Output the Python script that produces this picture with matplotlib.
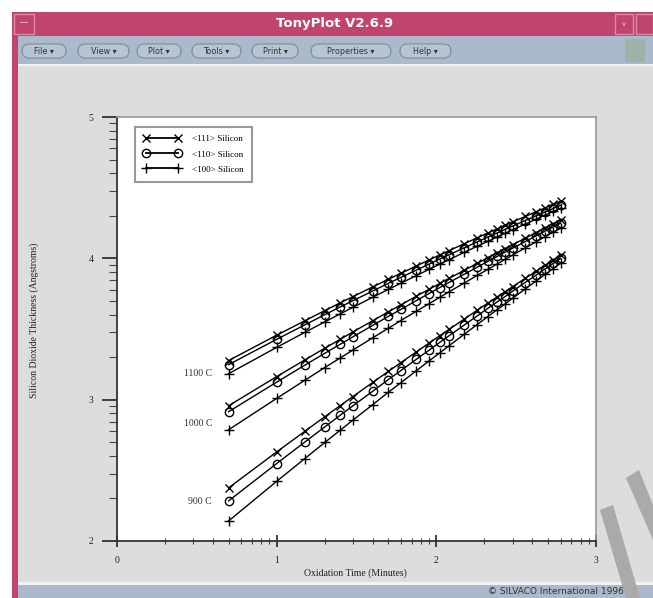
import numpy as np
import matplotlib
matplotlib.use('Agg')
import matplotlib.pyplot as plt
from matplotlib.patches import Rectangle, FancyBboxPatch, Polygon
from matplotlib.lines import Line2D

W, H = 653, 598

# ---------------- data ----------------
times_min = [5, 10, 15, 20, 25, 30, 40, 50, 60, 75, 90, 105, 120, 150, 180,
             210, 240, 270, 300, 360, 420, 480, 540, 600]

# log10 of oxide thickness in Angstroms (axis shows decades 2..5)
t1100_111 = [3.277, 3.456, 3.558, 3.630, 3.685, 3.729, 3.798, 3.852, 3.894, 3.946, 3.988, 4.024,
             4.054, 4.104, 4.145, 4.179, 4.208, 4.234, 4.257, 4.296, 4.329, 4.357, 4.382, 4.404]
t1100_110 = [3.248, 3.427, 3.529, 3.601, 3.656, 3.700, 3.769, 3.823, 3.865, 3.917, 3.959, 3.995,
             4.025, 4.075, 4.116, 4.150, 4.179, 4.205, 4.228, 4.267, 4.300, 4.328, 4.353, 4.375]
t1100_100 = [3.184, 3.370, 3.476, 3.550, 3.607, 3.653, 3.725, 3.780, 3.824, 3.878, 3.922, 3.959,
             3.990, 4.043, 4.085, 4.120, 4.151, 4.178, 4.202, 4.242, 4.276, 4.306, 4.332, 4.355]
t1000_111 = [2.957, 3.163, 3.281, 3.364, 3.427, 3.479, 3.559, 3.621, 3.671, 3.732, 3.781, 3.822,
             3.858, 3.916, 3.964, 4.004, 4.039, 4.069, 4.096, 4.142, 4.181, 4.215, 4.244, 4.270]
t1000_110 = [2.915, 3.124, 3.244, 3.328, 3.392, 3.444, 3.526, 3.589, 3.639, 3.701, 3.751, 3.793,
             3.829, 3.888, 3.937, 3.978, 4.013, 4.044, 4.071, 4.118, 4.158, 4.192, 4.222, 4.248]
t1000_100 = [2.787, 3.009, 3.137, 3.227, 3.295, 3.351, 3.438, 3.505, 3.560, 3.626, 3.679, 3.724,
             3.763, 3.826, 3.879, 3.922, 3.960, 3.993, 4.023, 4.073, 4.116, 4.153, 4.185, 4.213]
t900_111 = [2.376, 2.630, 2.776, 2.879, 2.958, 3.022, 3.122, 3.200, 3.262, 3.338, 3.400, 3.452,
            3.497, 3.571, 3.632, 3.683, 3.726, 3.764, 3.799, 3.858, 3.907, 3.950, 3.987, 4.021]
t900_110 = [2.284, 2.548, 2.700, 2.807, 2.890, 2.956, 3.060, 3.142, 3.206, 3.286, 3.350, 3.405,
            3.452, 3.529, 3.592, 3.646, 3.691, 3.730, 3.767, 3.829, 3.880, 3.925, 3.964, 3.999]
t900_100 = [2.142, 2.422, 2.583, 2.697, 2.784, 2.855, 2.965, 3.052, 3.120, 3.205, 3.274, 3.331,
            3.381, 3.464, 3.531, 3.588, 3.636, 3.678, 3.717, 3.783, 3.838, 3.886, 3.927, 3.965]

orientations = ['<111> Silicon', '<110> Silicon', '<100> Silicon']
temperature_labels = ['1100 C', '1000 C', '900 C']
x_ticks = [0, 1, 2, 3]
y_ticks = [2, 3, 4, 5]
x_title = 'Oxidation Time (Minutes)'
y_title = 'Silicon Dioxide Thickness (Angstroms)'
window_title = 'TonyPlot V2.6.9'
menu_items = ['File', 'View', 'Plot', 'Tools', 'Print', 'Properties', 'Help']
footer = '\u00a9 SILVACO International 1996'

groups = [
    [t1100_111, t1100_110, t1100_100],
    [t1000_111, t1000_110, t1000_100],
    [t900_111, t900_110, t900_100],
]

# ---------------- figure / window chrome ----------------
fig = plt.figure(figsize=(W / 100, H / 100), dpi=100)
fig.patch.set_facecolor('white')


def fx(x):
    return x / W


def fy(y):
    return 1 - y / H


def rect(x0, y0, x1, y1, fc, ec='none', lw=0, z=-10):
    fig.add_artist(Rectangle((fx(x0), fy(y1)), (x1 - x0) / W, (y1 - y0) / H,
                             transform=fig.transFigure, facecolor=fc,
                             edgecolor=ec, linewidth=lw, zorder=z))


PINK = '#C1446F'
MENU = '#AABACB'
GRAY = '#DDDDDD'

rect(12, 12, 653, 598, PINK)             # window frame
rect(12, 12, 653, 36, PINK)               # title bar
rect(18, 36, 653, 64, MENU)               # menu bar
rect(18, 64, 653, 66, '#F2F2F2')
rect(18, 66, 653, 582, GRAY)              # content area
rect(18, 582, 653, 585, '#F2F2F2')
rect(18, 585, 653, 598, MENU)             # status bar

# title bar buttons
rect(14, 14, 34, 34, 'none', ec='#D98AA6', lw=1, z=-9)
fig.text(fx(24), fy(23), '\u2014', color='#F0C8D6', fontsize=6, ha='center', va='center')
rect(615, 14, 633, 34, 'none', ec='#D98AA6', lw=1, z=-9)
fig.text(fx(624), fy(24), 'v', color='#F0C8D6', fontsize=5, ha='center', va='center')
rect(636, 14, 653, 34, 'none', ec='#D98AA6', lw=1, z=-9)
fig.text(fx(335), fy(24), window_title, color='white', fontsize=9.5,
         fontweight='bold', ha='center', va='center', family='DejaVu Sans')

# menu pills
pill_x = [(22, 66), (78, 129), (137, 181), (192, 241), (252, 298), (311, 391), (400, 451)]
for (x0, x1), name in zip(pill_x, menu_items):
    fig.add_artist(FancyBboxPatch((fx(x0), fy(58)), (x1 - x0) / W, 14 / H,
                                  boxstyle='round,pad=0,rounding_size=0.012',
                                  transform=fig.transFigure, facecolor='#B7C5D3',
                                  edgecolor='#7F8C9A', linewidth=0.8, zorder=-8))
    fig.text(fx((x0 + x1) / 2), fy(51), name + ' \u25be', fontsize=5.8, color='#333333',
             ha='center', va='center', family='DejaVu Sans')
rect(625, 39, 645, 62, '#9FB2AA', z=-9)

fig.text(fx(488), fy(592), footer, fontsize=6.5, color='#333333', ha='left',
         va='center', family='DejaVu Sans')

# watermark strokes (bottom right)
for pts in ([(600, 510), (613, 505), (640, 598), (626, 598)],
            [(626, 478), (639, 470), (653, 505), (653, 540)]):
    fig.add_artist(Polygon([(fx(a), fy(b)) for a, b in pts], closed=True,
                           transform=fig.transFigure, facecolor='#AAAAAA',
                           edgecolor='none', zorder=5))

# ---------------- plot ----------------
ax = fig.add_axes([fx(117), fy(541), (596 - 117) / W, (541 - 117) / H])
ax.set_facecolor('white')
x = np.log10(times_min)

styles = [dict(marker='x', ms=6, mew=1.0, mfc='black'),
          dict(marker='o', ms=6, mew=1.0, mfc='none'),
          dict(marker='+', ms=7, mew=1.0, mfc='black')]

for grp in groups:
    for vals, st in zip(grp, styles):
        ax.plot(x, vals, color='black', lw=1.0, mec='black', clip_on=False, **st)

ax.set_xlim(0, 3)
ax.set_ylim(2, 5)

minor = np.concatenate([d + np.log10(np.arange(2, 10)) for d in range(3)])
ax.set_xticks(x_ticks)
ax.set_xticklabels([str(v) for v in x_ticks])
ax.set_yticks(y_ticks)
ax.set_yticklabels([str(v) for v in y_ticks])
ax.set_xticks(minor, minor=True)
ax.set_yticks(minor + 2, minor=True)

serif = 'Liberation Serif'
ax.tick_params(axis='x', which='major', direction='inout', length=9, width=1.2,
               pad=6, labelsize=7, colors='#222222')
ax.tick_params(axis='x', which='minor', direction='inout', length=5, width=0.8, colors='#444444')
ax.tick_params(axis='y', which='major', direction='out', length=11, width=1.2,
               pad=6, labelsize=7, colors='#222222')
ax.tick_params(axis='y', which='minor', direction='out', length=6, width=0.8, colors='#444444')
for lab in ax.get_xticklabels() + ax.get_yticklabels():
    lab.set_family(serif)

for s in ['left', 'bottom']:
    ax.spines[s].set_color('#333333')
    ax.spines[s].set_linewidth(1.3)
for s in ['top', 'right']:
    ax.spines[s].set_color('#999999')
    ax.spines[s].set_linewidth(1.2)

fig.text(fx(355), fy(573), x_title, fontsize=7, family=serif, ha='center',
         va='center', color='#222222')
fig.text(fx(34), fy(320), y_title, fontsize=7, family=serif, ha='center',
         va='center', rotation=90, color='#222222')

# temperature labels next to the start of each group
label_y = [373, 423, 501]
for lab, yy in zip(temperature_labels, label_y):
    fig.text(fx(212), fy(yy), lab, fontsize=7, family=serif, ha='right',
             va='center', color='#333333')

handles = [Line2D([0], [0], color='black', lw=1.3, mec='black', **st) for st in styles]
leg = ax.legend(handles, orientations, loc='upper left',
                bbox_to_anchor=(fx(135), fy(127)), bbox_transform=fig.transFigure,
                numpoints=2, handlelength=4.2, handletextpad=1.2, labelspacing=0.75,
                borderpad=0.9, borderaxespad=0, fancybox=False, framealpha=1,
                prop={'family': serif, 'size': 6.5})
leg.get_frame().set_edgecolor('#999999')
leg.get_frame().set_linewidth(1.5)

fig.savefig('out.png', dpi=100)
